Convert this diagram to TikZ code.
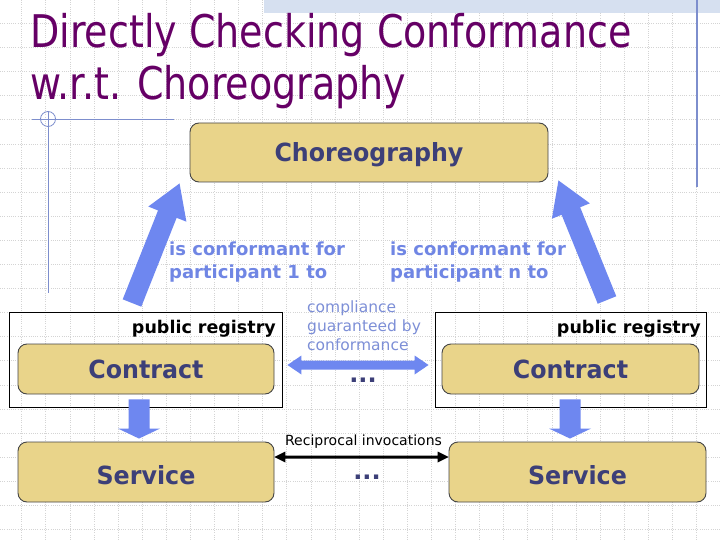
\documentclass[tikz,border=0pt]{standalone}
\usepackage{fontspec}
\setmainfont{DejaVu Sans}
\newfontfamily\titlefont[FakeStretch=0.845]{DejaVu Sans}
\newfontfamily\boxfont[FakeStretch=0.95]{DejaVu Sans}
\usetikzlibrary{calc}
\definecolor{titlecol}{RGB}{102,0,102}
\definecolor{boxfill}{RGB}{233,212,138}
\definecolor{boxline}{RGB}{70,70,70}
\definecolor{boxtext}{RGB}{60,63,120}
\definecolor{arrowcol}{RGB}{110,135,240}
\definecolor{conftext}{RGB}{112,134,228}
\definecolor{compltext}{RGB}{125,143,215}
\definecolor{gridcol}{RGB}{212,212,212}
\definecolor{bandcol}{RGB}{214,224,240}
\definecolor{decocol}{RGB}{125,142,205}
\tikzset{
  cbox/.style={draw=boxline, fill=boxfill, rounded corners=9pt, line width=0.9pt,
    font=\boxfont\bfseries\fontsize{25}{30}\selectfont, text=boxtext, inner sep=0pt,
    text height=18.5pt, text depth=0pt},
  regframe/.style={draw=black, line width=1pt, inner sep=0pt},
  gridline/.style={draw=gridcol, line width=0.5pt, dash pattern=on 1pt off 1.2pt},
  bluearr/.style={fill=arrowcol},
  blackarr/.style={fill=black},
  conflabel/.style={font=\bfseries\fontsize{18}{22}\selectfont, text=conftext, inner sep=0pt, anchor=base west},
  compllabel/.style={font=\fontsize{15.5}{19}\selectfont, text=compltext, inner sep=0pt, anchor=base west},
  reglabel/.style={font=\bfseries\fontsize{17.5}{21}\selectfont, text=black, inner sep=0pt, anchor=base east},
  dotslabel/.style={font=\bfseries\fontsize{24}{28}\selectfont, text=boxtext, inner sep=0pt, anchor=base},
  titlelabel/.style={font=\titlefont\fontsize{45}{52}\selectfont, text=titlecol, inner sep=0pt, anchor=base west}
}
% block arrow: from, to, shaft width, head width, head length, style
\newcommand\blockarrow[6]{%
  \path let \p1=($(#2)-(#1)$) in \pgfextra{%
    \pgfmathsetmacro\myanga{atan2(\y1,\x1)}\xdef\baang{\myanga}%
    \pgfmathsetmacro\mylena{veclen(\x1,\y1)}\xdef\balen{\mylena}};
  \fill[#6,shift={(#1)},rotate=\baang]
    (0pt,{-#3/2*1pt}) -- ({(\balen-#5)*1pt},{-#3/2*1pt}) -- ({(\balen-#5)*1pt},{-#4/2*1pt})
    -- ({\balen*1pt},0pt) -- ({(\balen-#5)*1pt},{#4/2*1pt}) -- ({(\balen-#5)*1pt},{#3/2*1pt})
    -- (0pt,{#3/2*1pt}) -- cycle;
}
\newcommand\dblarrow[6]{%
  \path let \p1=($(#2)-(#1)$) in \pgfextra{%
    \pgfmathsetmacro\myanga{atan2(\y1,\x1)}\xdef\baang{\myanga}%
    \pgfmathsetmacro\mylena{veclen(\x1,\y1)}\xdef\balen{\mylena}};
  \fill[#6,shift={(#1)},rotate=\baang]
    (0pt,0pt) -- ({#5*1pt},{#4/2*1pt}) -- ({#5*1pt},{#3/2*1pt})
    -- ({(\balen-#5)*1pt},{#3/2*1pt}) -- ({(\balen-#5)*1pt},{#4/2*1pt})
    -- ({\balen*1pt},0pt) -- ({(\balen-#5)*1pt},{-#4/2*1pt}) -- ({(\balen-#5)*1pt},{-#3/2*1pt})
    -- ({#5*1pt},{-#3/2*1pt}) -- ({#5*1pt},{-#4/2*1pt}) -- cycle;
}
\begin{document}
\begin{tikzpicture}[x=1pt,y=-1pt]
\useasboundingbox (0,0) rectangle (720,540);
\fill[white] (0,0) rectangle (720,540);
% background grid
\foreach \i in {0,...,28} \draw[gridline] ({21.6+24.1*\i},0) -- ({21.6+24.1*\i},540);
\foreach \j in {0,...,21} \draw[gridline] (0,{23.3+24.1*\j}) -- (720,{23.3+24.1*\j});
% template decorations
\fill[bandcol] (264,0) rectangle (720,13);
\draw[decocol, line width=1.2pt] (697,0) -- (697,187);
\draw[decocol, line width=0.9pt] (32,119) -- (174,119);
\draw[decocol, line width=0.9pt] (48,112) -- (48,293);
\draw[decocol, line width=0.8pt] (48,119) circle[radius=7.5pt];
% title
\node[titlelabel] (t1) at (30,48) {Directly Checking Conformance};
\node[titlelabel] (t2) at (30,100) {w.r.t. Choreography};
% boxes
\node[cbox, minimum width=358pt, minimum height=59pt] (chor) at (369,152.5) {Choreography};
\node[regframe, minimum width=273pt, minimum height=95pt] (reg1) at (145.5,359.5) {};
\node[regframe, minimum width=271pt, minimum height=95pt] (reg2) at (570.5,359.5) {};
\node[cbox, minimum width=256pt, minimum height=50pt] (cont1) at (146,369) {Contract};
\node[cbox, minimum width=257pt, minimum height=50pt] (cont2) at (570.5,369) {Contract};
\node[cbox, minimum width=256pt, minimum height=60pt, text height=24pt] (serv1) at (146,472) {Service};
\node[cbox, minimum width=257pt, minimum height=60pt, text height=24pt] (serv2) at (577.5,472) {Service};
\node[reglabel] (rl1) at (276,333) {public registry};
\node[reglabel] (rl2) at (701,333) {public registry};
% arrow end points
\coordinate (tail1) at (132,303);
\coordinate (tail2) at (607,300);
\coordinate (tip1) at ([xshift=-10pt,yshift=-1pt]chor.south west);
\coordinate (tip2) at ([xshift=10pt,yshift=2pt]chor.south east);
\coordinate (d1a) at ([xshift=-7pt,yshift=-5pt]cont1.south);
\coordinate (d1b) at ([xshift=-7pt,yshift=3pt]serv1.north);
\coordinate (d2a) at ([xshift=-0.5pt,yshift=-5pt]cont2.south);
\coordinate (d2b) at ([xshift=-7.5pt,yshift=3pt]serv2.north);
\coordinate (ma) at ([xshift=13pt,yshift=4pt]cont1.east);
\coordinate (mb) at ([xshift=-13pt,yshift=4pt]cont2.west);
\coordinate (sa) at ([yshift=15pt]serv1.east);
\coordinate (sb) at ([yshift=15pt]serv2.west);
% arrows
\blockarrow{tail1}{tip1}{20}{41}{33}{bluearr}
\blockarrow{tail2}{tip2}{20}{41}{33}{bluearr}
\blockarrow{d1a}{d1b}{21}{42}{10}{bluearr}
\blockarrow{d2a}{d2b}{21}{42}{10}{bluearr}
\dblarrow{ma}{mb}{9}{19}{14}{bluearr}
\dblarrow{sa}{sb}{3}{11}{11}{blackarr}
% labels
\node[conflabel] (c1a) at (169,255) {is conformant for};
\node[conflabel] (c1b) at (169,278) {participant 1 to};
\node[conflabel] (c2a) at (390,255) {is conformant for};
\node[conflabel] (c2b) at (390,278) {participant n to};
\node[compllabel] (g1) at (307,312) {compliance};
\node[compllabel] (g2) at (307,331) {guaranteed by};
\node[compllabel] (g3) at (307,350) {conformance};
\node[dotslabel] (dots1) at (363,382) {...};
\node[font=\fontsize{14}{17}\selectfont, inner sep=0pt, anchor=base] (rec) at (363.5,445) {Reciprocal invocations};
\node[dotslabel] (dots2) at (367,479) {...};
\end{tikzpicture}
\end{document}
